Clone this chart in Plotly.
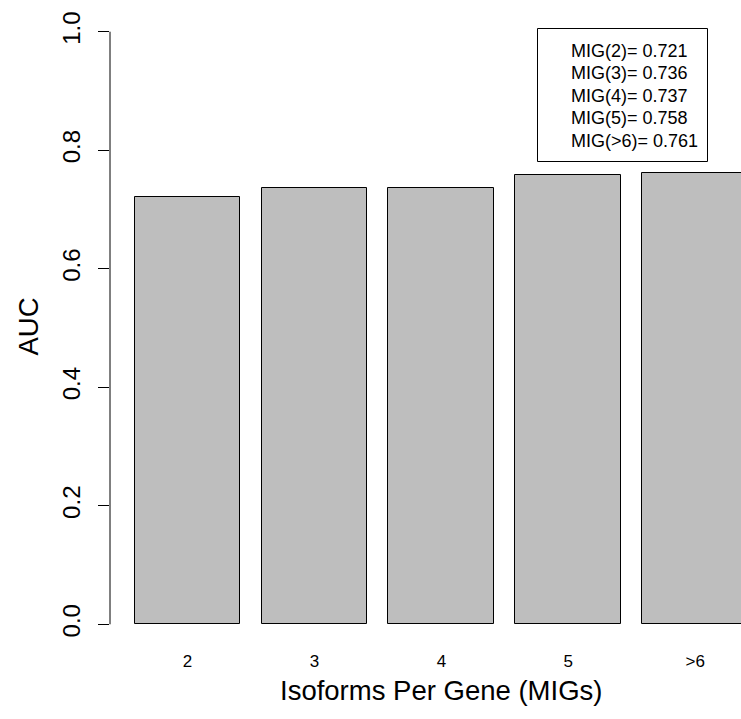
import plotly.graph_objects as go

categories = ["2", "3", "4", "5", ">6"]
auc_values = [0.721, 0.736, 0.737, 0.758, 0.761]
y_ticks = [0.0, 0.2, 0.4, 0.6, 0.8, 1.0]
y_tick_labels = ["0.0", "0.2", "0.4", "0.6", "0.8", "1.0"]

FONT = "Liberation Sans, Arial, Helvetica, sans-serif"
W, H = 741, 719
ML, MR, MT, MB = 110, 0, 8, 71
pw = W - ML - MR
ph = H - MT - MB

# R barplot geometry: width 1, space 0.2
centers = [0.2 + 0.5 + i * 1.2 for i in range(len(categories))]
px_per_unit = 105.8
x_range = [-0.032, -0.032 + pw / px_per_unit]

fig = go.Figure()
fig.add_trace(go.Bar(
    x=centers, y=auc_values, width=[1.0] * len(categories),
    marker=dict(color="#bebebe", line=dict(color="#000000", width=1)),
    hoverinfo="skip", showlegend=False,
))

def px_x(p):
    return (p - ML) / pw

def px_y(p):
    return (H - MB - p) / ph

fig.update_layout(
    width=W, height=H,
    margin=dict(l=ML, r=MR, t=MT, b=MB, pad=0),
    plot_bgcolor="white", paper_bgcolor="white",
    font=dict(family=FONT, color="black"),
    bargap=0,
    xaxis=dict(
        range=x_range, tickmode="array", tickvals=centers, ticktext=categories,
        showgrid=False, zeroline=False, showline=False, ticks="",
        tickfont=dict(size=17, family=FONT, color="black"),
        ticklabelstandoff=1,
    ),
    yaxis=dict(
        range=[-0.04, 1.04], tickmode="array", tickvals=y_ticks, ticktext=y_tick_labels,
        showgrid=False, zeroline=False, showline=False,
        ticks="outside", ticklen=11, tickwidth=1, tickcolor="black",
        tickangle=-90, tickfont=dict(size=24, family=FONT, color="black"),
        ticklabelstandoff=8,
    ),
)

# y axis line spanning 0..1 only (R style)
fig.add_shape(type="line", xref="paper", yref="y", x0=0, x1=0,
              y0=y_ticks[0], y1=y_ticks[-1], line=dict(color="black", width=1))

# axis titles
fig.add_annotation(text="Isoforms Per Gene (MIGs)", xref="paper", yref="paper",
                   x=px_x(441.5), y=px_y(690), xanchor="center", yanchor="middle",
                   showarrow=False, font=dict(size=27.5, family=FONT, color="black"))
fig.add_annotation(text="AUC", xref="paper", yref="paper", textangle=-90,
                   x=px_x(27.5), y=px_y(327), xanchor="center", yanchor="middle",
                   showarrow=False, font=dict(size=27.5, family=FONT, color="black"))

# legend box
fig.add_shape(type="rect", xref="paper", yref="paper",
              x0=px_x(537.5), x1=px_x(707.5), y0=px_y(161.5), y1=px_y(28.5),
              line=dict(color="black", width=1), fillcolor="white")
for i, (c, v) in enumerate(zip(categories, auc_values)):
    fig.add_annotation(text=f"MIG({c})= {v:.3f}", xref="paper", yref="paper",
                       x=px_x(569), y=px_y(51 + 22.5 * i), xanchor="left", yanchor="middle",
                       showarrow=False, font=dict(size=18, family=FONT, color="black"))

fig.write_html("out.html")
